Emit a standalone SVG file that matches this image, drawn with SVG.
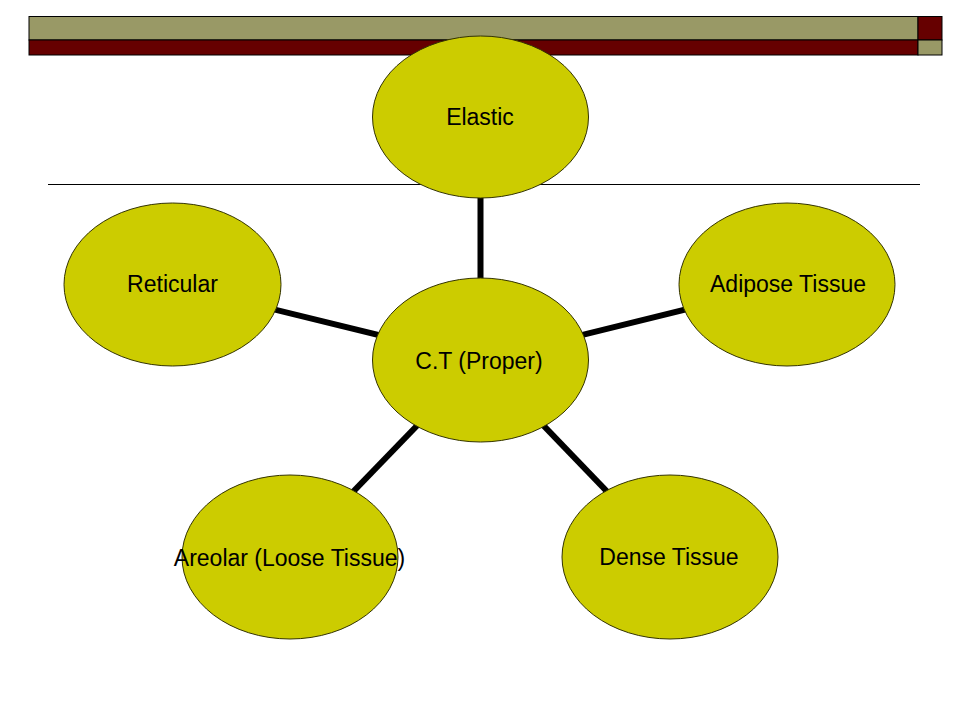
<svg xmlns="http://www.w3.org/2000/svg" width="960" height="720" viewBox="0 0 960 720">
<style>
.node{fill:#CCCC00;stroke:#333300;stroke-width:1}
.lbl{font-family:"Liberation Sans",Arial,sans-serif;font-size:23px;fill:#000;text-anchor:middle}
.conn{stroke:#000;stroke-width:6;fill:none}
.bar{stroke:#000;stroke-width:1}
</style>
<rect width="960" height="720" fill="#fff"/>
<g id="header">
<rect class="bar" x="29" y="16.5" width="889" height="23.5" fill="#999966"/>
<rect class="bar" x="918" y="16.5" width="24" height="23.5" fill="#660000"/>
<rect class="bar" x="29" y="40" width="889" height="15" fill="#660000"/>
<rect class="bar" x="918" y="40" width="24" height="15" fill="#999966"/>
</g>
<line x1="48" y1="184.5" x2="920" y2="184.5" stroke="#000" stroke-width="1"/>
<g id="connectors">
<line class="conn" x1="480.5" y1="360" x2="480.5" y2="117"/>
<line class="conn" x1="480.5" y1="360" x2="172.5" y2="284.5"/>
<line class="conn" x1="480.5" y1="360" x2="787" y2="284.5"/>
<line class="conn" x1="480.5" y1="360" x2="290" y2="557"/>
<line class="conn" x1="480.5" y1="360" x2="670" y2="557"/>
</g>
<g id="elastic">
<ellipse class="node" cx="480.5" cy="117" rx="108" ry="81"/>
<text class="lbl" x="480" y="125">Elastic</text>
</g>
<g id="reticular">
<ellipse class="node" cx="172.5" cy="284.5" rx="108.5" ry="81.5"/>
<text class="lbl" x="172.5" y="292">Reticular</text>
</g>
<g id="adipose">
<ellipse class="node" cx="787" cy="284.5" rx="108" ry="81.5"/>
<text class="lbl" x="788" y="292">Adipose Tissue</text>
</g>
<g id="areolar">
<ellipse class="node" cx="290" cy="557" rx="108" ry="82"/>
<text class="lbl" x="289.5" y="566">Areolar (Loose Tissue)</text>
</g>
<g id="dense">
<ellipse class="node" cx="670" cy="557" rx="108" ry="82"/>
<text class="lbl" x="669" y="565">Dense Tissue</text>
</g>
<g id="center">
<ellipse class="node" cx="480.5" cy="360" rx="108" ry="82"/>
<text class="lbl" x="479" y="369">C.T (Proper)</text>
</g>
</svg>
